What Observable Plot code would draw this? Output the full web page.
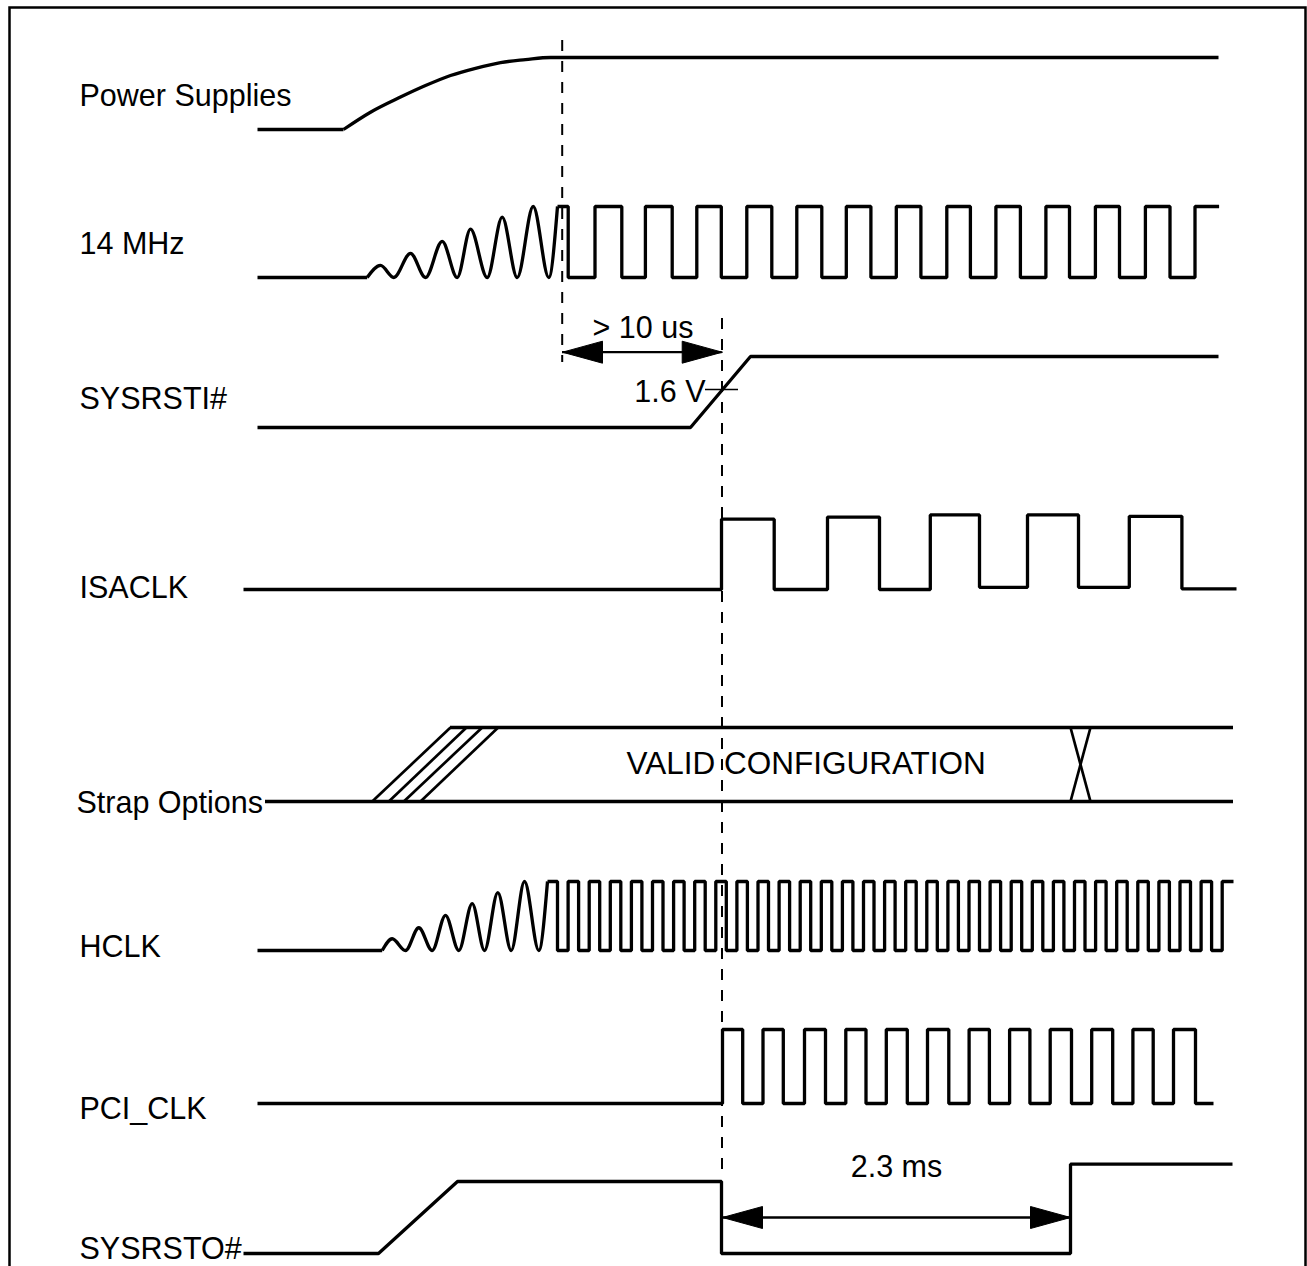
<!DOCTYPE html>
<html><head><meta charset="utf-8">
<script src="https://cdn.jsdelivr.net/npm/d3@7"></script>
<script src="https://cdn.jsdelivr.net/npm/@observablehq/plot@0.6"></script>
<style>html,body{margin:0;padding:0;background:#fff;} #chart svg{display:block;}</style>
</head><body><div id="chart"></div>
<script>
// ================= DATA (times; level 0 = low, 1 = high) =================
const signalNames = ["Power Supplies", "14 MHz", "SYSRSTI#", "ISACLK", "Strap Options", "HCLK", "PCI_CLK", "SYSRSTO#"];

// Power Supplies: flat low, then a smooth rise to the rail
const powerLow = [[257, 0], [343, 0]];
const powerRise = [[343, 0], [370, 0.24], [400, 0.45], [425, 0.61], [450, 0.75], [475, 0.85], [500, 0.93], [525, 0.97], [550, 1], [1218, 1]];

// 14 MHz: oscillator start-up then square clock
const osc14Flat = [[257, 0], [366.7, 0]];
const osc14 = [[366.7, 0], [380, 0.17], [393.3, 0], [410, 0.34], [425, 0], [441.7, 0.51], [456.7, 0], [470, 0.68], [486.7, 0], [501.7, 0.85], [516.7, 0], [532.7, 1], [548.3, 0], [557, 1]];
const clk14Edges = [557, 567.7, 594.5, 621.3, 644.9, 671.7, 696.3, 720.8, 746.3, 771.3, 796.3, 821.3, 845.8, 870.4, 895.8, 920.4, 946.3, 969.9, 995.4, 1019.9, 1045.4, 1069, 1094.9, 1119, 1144.9, 1169.5, 1194.5];
const clk14End = 1218.6;

// SYSRSTI#
const sysrsti = [[257, 0], [690, 0], [750, 1], [1218, 1]];
const threshold16V = {t1: 705, t2: 738, level: 0.535, label: "1.6 V"};

// ISACLK (levels wobble slightly in the original)
const isaclk = [[243, 0], [721, 0.99], [773.7, 0], [827, 1.02], [879, 0], [929.8, 1.05], [979, 0.03], [1027, 1.05], [1078, 0.03], [1128.8, 1.03], [1181.4, 0.01], [1236, 0.01]];

// Strap Options bus
const strapLowSpan = [265, 1233];
const strapHighSpan = [450, 1233];
const strapSettleStart = [371.7, 388.3, 403.3, 420];
const strapSettleEnd = [450, 466, 481.7, 497.7];
const strapCross = [1070, 1090];
const strapText = "VALID CONFIGURATION";

// HCLK: PLL start-up then fast clock
const hclkFlat = [[257, 0], [381.7, 0]];
const hclkOsc = [[381.7, 0], [391.7, 0.17], [405, 0], [418.3, 0.33], [431.7, 0], [445, 0.51], [458.3, 0], [471.7, 0.68], [484, 0], [497.3, 0.84], [510.7, 0], [524, 1], [538.3, 0], [547, 1]];
const hclkEdges = [547, 557.0, 567.6, 578.1, 588.7, 599.2, 609.8, 620.3, 630.9, 641.4, 652.0, 662.5, 673.1, 683.6, 694.2, 704.7, 715.3, 725.8, 736.4, 746.9, 757.5, 768.0, 778.6, 789.1, 799.7, 810.2, 820.8, 831.3, 841.9, 852.4, 863.0, 873.5, 884.1, 894.6, 905.2, 915.7, 926.3, 936.8, 947.4, 957.9, 968.5, 979.0, 989.6, 1000.1, 1010.7, 1021.2, 1031.8, 1042.3, 1052.9, 1063.4, 1074.0, 1084.5, 1095.1, 1105.6, 1116.2, 1126.7, 1137.3, 1147.8, 1158.4, 1168.9, 1179.5, 1190.0, 1200.6, 1211.1, 1221.7];
const hclkEnd = 1233;

// PCI_CLK
const pciEdges = [257, 722, 742.2, 762.5, 782.8, 804, 825, 845.3, 865.5, 885.8, 906.8, 927, 948.3, 968.6, 988.9, 1009.1, 1029.4, 1049.7, 1071, 1091.2, 1112.2, 1132.4, 1152.7, 1173, 1195];
const pciEnd = 1213;

// SYSRSTO#
const sysrsto = [[243, 0], [378, 0], [457, 1], [721, 1], [721, 0], [1070, 0], [1070, 1.24], [1232, 1.24]];

// Reference instants (dashed) and timing annotations
const markerTimes = [561.7, 721.5];
const timingArrows = [
  {from: 562, to: 721.7, label: "> 10 us"},
  {from: 722, to: 1070, label: "2.3 ms"}
];

// ================= LAYOUT =================
const W = 1307, H = 1266;
const FONT = "'Liberation Sans', Arial, Helvetica, sans-serif";
const FS = 30.5;
const lanes = {
  "Power Supplies": {lo: 129, hi: 57, labelY: 105, labelX: 79},
  "14 MHz": {lo: 277, hi: 206, labelY: 253, labelX: 79},
  "SYSRSTI#": {lo: 427, hi: 356, labelY: 408, labelX: 79},
  "ISACLK": {lo: 589, hi: 518, labelY: 597, labelX: 79},
  "Strap Options": {lo: 801, hi: 727, labelY: 812, labelX: 76},
  "HCLK": {lo: 950, hi: 881, labelY: 956, labelX: 79},
  "PCI_CLK": {lo: 1103, hi: 1029, labelY: 1118, labelX: 79},
  "SYSRSTO#": {lo: 1253, hi: 1181, labelY: 1258, labelX: 79}
};
const markerSpans = [[40, 362], [318, 1172]];
const arrowLayout = [{y: 351.7, textX: 592, textY: 337, anchor: "start"}, {y: 1217, textX: 896, textY: 1176, anchor: "middle"}];
const HEAD_L = 40, HEAD_H = 11;
const WAVE_W = 3.3;

const lv = (lane, level) => lanes[lane].lo - level * (lanes[lane].lo - lanes[lane].hi);
function stepPoints(edges, startLevel, end) {
  const pts = []; let l = startLevel;
  edges.forEach((t, i) => { if (i > 0) l = 1 - l; pts.push([t, l]); });
  pts.push([end, l]);
  return pts;
}
const wave = (pts, lane, curve = "linear", sw = WAVE_W) => Plot.line(pts, {
  x: d => d[0], y: d => lv(lane, d[1]), curve,
  stroke: "black", strokeWidth: sw, strokeLinejoin: "miter", strokeLinecap: "butt"
});

// strap hatch + crossing segments
const strapSegs = [];
strapSettleStart.forEach((t, i) => strapSegs.push({x1: t, y1: lv("Strap Options", 0), x2: strapSettleEnd[i], y2: lv("Strap Options", 1)}));
strapSegs.push({x1: strapCross[0], y1: lv("Strap Options", 1), x2: strapCross[1], y2: lv("Strap Options", 0)});
strapSegs.push({x1: strapCross[1], y1: lv("Strap Options", 1), x2: strapCross[0], y2: lv("Strap Options", 0)});

// arrows
const shafts = [], heads = [];
timingArrows.forEach((a, i) => {
  const y = arrowLayout[i].y;
  shafts.push({x1: a.from, x2: a.to, y});
  heads.push([[a.from, y, i * 2], [a.from + HEAD_L, y - HEAD_H, i * 2], [a.from + HEAD_L, y + HEAD_H, i * 2], [a.from, y, i * 2]]);
  heads.push([[a.to, y, i * 2 + 1], [a.to - HEAD_L, y - HEAD_H, i * 2 + 1], [a.to - HEAD_L, y + HEAD_H, i * 2 + 1], [a.to, y, i * 2 + 1]]);
});
const headPts = heads.flat();
const arrowLabels = timingArrows.map((a, i) => ({label: a.label, ...arrowLayout[i]}));

const labelData = signalNames.map(n => ({name: n, x: lanes[n].labelX, y: lanes[n].labelY}));
const textOpts = {lineAnchor: "bottom", fontSize: FS, fontFamily: FONT, fill: "black"};

const chart = Plot.plot({
  width: W, height: H, margin: 0,
  style: {background: "white", fontFamily: FONT},
  x: {domain: [0, W], range: [0, W], axis: null},
  y: {domain: [0, H], range: [0, H], axis: null},
  marks: [
    Plot.frame({stroke: "black", strokeWidth: 2.5, insetLeft: 9, insetTop: 7, insetRight: 2, insetBottom: -20}),
    // dashed reference instants
    Plot.ruleX(markerTimes.map((t, i) => ({t, y1: markerSpans[i][0], y2: markerSpans[i][1]})), {
      x: "t", y1: "y1", y2: "y2", stroke: "black", strokeWidth: 2, strokeDasharray: "11,10"
    }),
    // Power
    wave(powerLow, "Power Supplies"),
    wave(powerRise, "Power Supplies", "monotone-x"),
    // 14 MHz
    wave(osc14Flat, "14 MHz"),
    wave(osc14, "14 MHz", "monotone-x"),
    wave(stepPoints(clk14Edges, 1, clk14End), "14 MHz", "step-after"),
    // SYSRSTI#
    wave(sysrsti, "SYSRSTI#"),
    Plot.ruleY([threshold16V], {x1: "t1", x2: "t2", y: d => lv("SYSRSTI#", d.level), stroke: "black", strokeWidth: 1.5}),
    Plot.text([threshold16V], {x: "t1", y: () => 401.7, text: "label", textAnchor: "end", ...textOpts}),
    // ISACLK
    wave(isaclk, "ISACLK", "step-after"),
    // Strap bus
    Plot.ruleY([{a: strapLowSpan[0], b: strapLowSpan[1], y: lv("Strap Options", 0)}, {a: strapHighSpan[0], b: strapHighSpan[1], y: lv("Strap Options", 1)}], {
      x1: "a", x2: "b", y: "y", stroke: "black", strokeWidth: WAVE_W
    }),
    Plot.link(strapSegs, {x1: "x1", y1: "y1", x2: "x2", y2: "y2", stroke: "black", strokeWidth: 2.7}),
    Plot.text([strapText], {x: () => 626, y: () => 773, text: d => d, textAnchor: "start", ...textOpts, fontSize: 31.5}),
    // HCLK
    wave(hclkFlat, "HCLK"),
    wave(hclkOsc, "HCLK", "monotone-x"),
    wave(stepPoints(hclkEdges, 1, hclkEnd), "HCLK", "step-after"),
    // PCI_CLK
    wave(stepPoints(pciEdges, 0, pciEnd), "PCI_CLK", "step-after"),
    // SYSRSTO#
    wave(sysrsto, "SYSRSTO#"),
    // timing arrows
    Plot.ruleY(shafts, {x1: "x1", x2: "x2", y: "y", stroke: "black", strokeWidth: 2.3}),
    Plot.line(headPts, {x: d => d[0], y: d => d[1], z: d => d[2], fill: "black", stroke: "black", strokeWidth: 1}),
    Plot.text(arrowLabels.filter(d => d.anchor === "start"), {x: "textX", y: "textY", text: "label", textAnchor: "start", ...textOpts}),
    Plot.text(arrowLabels.filter(d => d.anchor === "middle"), {x: "textX", y: "textY", text: "label", textAnchor: "middle", ...textOpts}),
    // signal labels
    Plot.text(labelData, {x: "x", y: "y", text: "name", textAnchor: "start", ...textOpts})
  ]
});
document.getElementById("chart").appendChild(chart);
</script>
</body></html>
